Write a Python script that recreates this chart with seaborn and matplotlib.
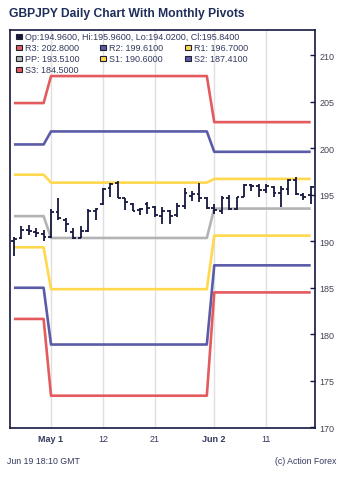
import numpy as np
import pandas as pd
import matplotlib
matplotlib.use("Agg")
import matplotlib.pyplot as plt
import seaborn as sns
from matplotlib.patches import Rectangle

# ---------------- data ----------------
dates = ["2025-04-24", "2025-04-25", "2025-04-28", "2025-04-29", "2025-04-30",
         "2025-05-01", "2025-05-02", "2025-05-05", "2025-05-06", "2025-05-07",
         "2025-05-08", "2025-05-09", "2025-05-12", "2025-05-13", "2025-05-14",
         "2025-05-15", "2025-05-16", "2025-05-19", "2025-05-20", "2025-05-21",
         "2025-05-22", "2025-05-23", "2025-05-26", "2025-05-27", "2025-05-28",
         "2025-05-29", "2025-05-30", "2025-06-02", "2025-06-03", "2025-06-04",
         "2025-06-05", "2025-06-06", "2025-06-09", "2025-06-10", "2025-06-11",
         "2025-06-12", "2025-06-13", "2025-06-16", "2025-06-17", "2025-06-18",
         "2025-06-19"]
opens = [190.03, 190.30, 191.20, 191.00, 190.80, 190.50, 193.10, 192.30, 191.00, 190.40,
         191.10, 193.30, 194.00, 195.70, 196.30, 194.60, 194.00, 193.40, 194.00, 193.70,
         192.70, 193.20, 192.80, 193.80, 194.90, 195.10, 194.70, 193.60, 193.30, 194.70,
         193.50, 194.80, 196.00, 195.90, 195.50, 195.80, 195.20, 195.60, 196.60, 195.00,
         194.96]
highs = [190.50, 191.60, 191.70, 191.40, 191.20, 193.50, 194.60, 192.45, 191.40, 191.60,
         193.50, 193.55, 195.70, 196.30, 196.45, 194.70, 194.10, 193.60, 194.20, 193.80,
         193.70, 193.40, 194.10, 195.70, 195.40, 196.30, 194.75, 194.00, 194.85, 195.00,
         194.80, 196.20, 196.20, 196.20, 196.20, 195.90, 195.90, 196.70, 196.85, 195.20,
         195.96]
lows = [188.40, 190.20, 190.70, 190.50, 190.00, 190.30, 192.30, 191.00, 190.25, 190.30,
        191.00, 192.30, 193.90, 194.80, 194.60, 193.40, 193.20, 192.80, 192.90, 192.60,
        191.90, 191.90, 192.60, 193.50, 194.35, 194.25, 193.50, 192.90, 192.90, 193.40,
        193.40, 194.80, 195.45, 194.80, 195.20, 194.80, 193.70, 195.00, 195.00, 194.45,
        194.02]
closes = [190.25, 191.20, 191.05, 190.90, 190.50, 193.10, 192.45, 191.90, 190.30, 191.10,
          193.30, 193.45, 195.60, 196.20, 194.70, 194.20, 193.30, 193.50, 193.60, 192.85,
          193.20, 192.70, 193.80, 195.20, 195.10, 194.70, 193.60, 193.40, 194.70, 193.50,
          194.80, 196.00, 195.90, 195.50, 195.90, 195.20, 195.60, 196.60, 195.10, 194.80,
          195.84]

pivot_names = ["R3", "R2", "R1", "PP", "S1", "S2", "S3"]
pivots_apr = [204.85, 200.40, 197.15, 192.70, 189.35, 185.00, 181.65]
pivots_may = [207.75, 201.80, 196.30, 190.35, 184.85, 178.90, 173.40]
pivots_jun = [202.80, 199.61, 196.70, 193.51, 190.60, 187.41, 184.50]

xtick_dates = ["2025-05-01", "2025-05-12", "2025-05-21", "2025-06-02", "2025-06-11"]
xtick_labels = ["May 1", "12", "21", "Jun 2", "11"]
yticks = [170, 175, 180, 185, 190, 195, 200, 205, 210]

# ---------------- styling ----------------
RED = "#e45b5e"
BLUE = "#5b5ca8"
YEL = "#ffd84d"
GRAY = "#b3b3b3"
NAVY = "#16183f"
TXT = "#333a5e"
palette = {"R3": RED, "R2": BLUE, "R1": YEL, "PP": GRAY, "S1": YEL, "S2": BLUE, "S3": RED}

sns.set_theme(style="white")
plt.rcParams["font.family"] = ["Liberation Sans", "DejaVu Sans"]

W, H = 350, 481
fig = plt.figure(figsize=(W / 100, H / 100), dpi=100)
fig.patch.set_facecolor("white")

def fx(px):
    return px / W

def fy(py):
    return 1 - py / H

ax_l, ax_r, ax_t, ax_b = 10, 315, 31, 429
ax = fig.add_axes([fx(ax_l), fy(ax_b), (ax_r - ax_l) / W, (ax_b - ax_t) / H])
ax.set_facecolor("white")

# pivot table per trading day
month_pivots = {"04": pivots_apr, "05": pivots_may, "06": pivots_jun}
rows = []
for i, d in enumerate(dates):
    vals = month_pivots[d[5:7]]
    for name, v in zip(pivot_names, vals):
        rows.append({"idx": i, "level": name, "value": v})
pdf = pd.DataFrame(rows)

sns.lineplot(data=pdf, x="idx", y="value", hue="level", palette=palette,
             estimator=None, legend=False, linewidth=1.9, ax=ax,
             solid_capstyle="butt")

# OHLC bars
idx = np.arange(len(dates))
tw = 0.38
ax.vlines(idx, lows, highs, color=NAVY, linewidth=1.3)
ax.hlines(opens, idx - tw, idx, color=NAVY, linewidth=1.3)
ax.hlines(closes, idx, idx + tw, color=NAVY, linewidth=1.3)

ax.set_xlim(-0.53, len(dates) - 1 + 0.58)
ax.set_ylim(169.93, 212.7)

# x ticks
xpos = [dates.index(d) for d in xtick_dates]
ax.set_xticks(xpos)
ax.set_xticklabels(xtick_labels)
for lab in ax.get_xticklabels():
    if lab.get_text() in ("May 1", "Jun 2"):
        lab.set_fontweight("bold")
ax.tick_params(axis="x", length=0, pad=4, labelsize=6.5, labelcolor=TXT)
ax.grid(axis="x", color="#e0e0e0", linewidth=1.0)
ax.grid(axis="y", visible=False)
ax.set_axisbelow(True)

# y ticks on the right, pointing inward
ax.yaxis.tick_right()
ax.set_yticks(yticks)
ax.set_yticklabels([str(v) for v in yticks])
ax.tick_params(axis="y", direction="in", length=3.5, width=1.0, color=NAVY,
               pad=3, labelsize=6.5, labelcolor="#444455", right=True, left=False)
ax.set_xlabel("")
ax.set_ylabel("")

for s in ax.spines.values():
    s.set_visible(True)
    s.set_color(NAVY)
    s.set_linewidth(1.2)

# title
fig.text(fx(9), fy(14), "GBPJPY Daily Chart With Monthly Pivots", fontsize=8.7,
         fontweight="bold", color="#1e2d5a", va="center", ha="left")

# legend (manual)
def leg_item(px, py, color, label):
    sq = 5.5
    fig.patches.append(Rectangle((fx(px), fy(py + sq / 2)), sq / W, sq / H,
                                 transform=fig.transFigure, facecolor=color,
                                 edgecolor="#222233", linewidth=0.8, zorder=5))
    fig.text(fx(px + 9), fy(py), label, fontsize=6.5, color=TXT,
             va="center", ha="left", zorder=6)

leg_item(16, 37.5, NAVY, "Op:%.4f, Hi:%.4f, Lo:%.4f, Cl:%.4f" %
         (opens[-1], highs[-1], lows[-1], closes[-1]))
cols = [16, 100, 185]
row_y = [48.5, 59.5, 70.5]
for k, name in enumerate(pivot_names):
    r, c = divmod(k, 3)
    leg_item(cols[c], row_y[r], palette[name], "%s: %.4f" % (name, pivots_jun[k]))

# footer
fig.text(fx(7), fy(462), "Jun 19 18:10 GMT", fontsize=6.3, color=TXT,
         va="center", ha="left")
fig.text(fx(336), fy(462), "(c) Action Forex", fontsize=6.3, color=TXT,
         va="center", ha="right")

fig.savefig("out.png", dpi=100, facecolor="white")
